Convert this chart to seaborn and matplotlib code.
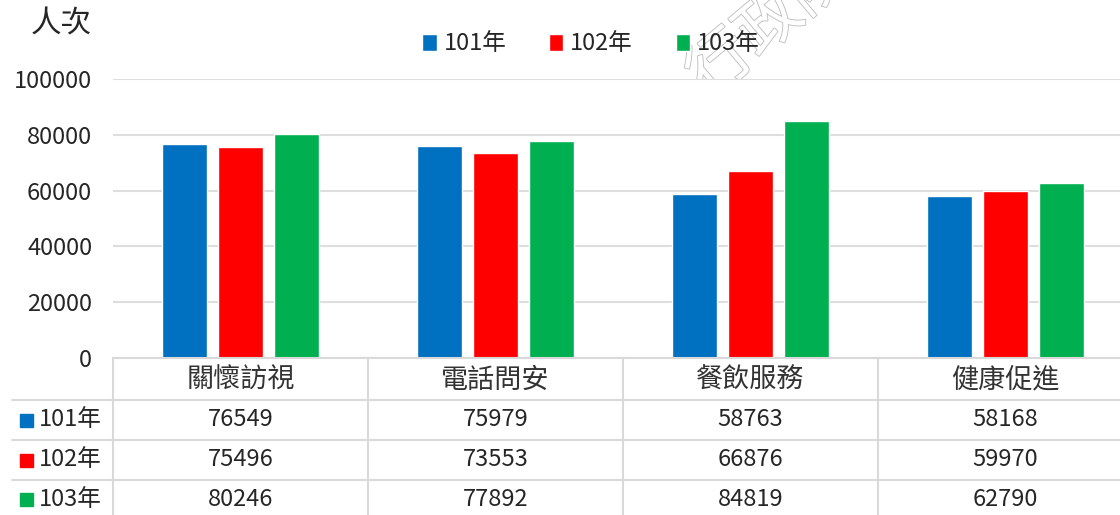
import matplotlib
matplotlib.use("Agg")
import matplotlib.pyplot as plt
import matplotlib.patheffects as pe
from matplotlib.lines import Line2D
from matplotlib.patches import Rectangle
import seaborn as sns
import pandas as pd

categories = ['關懷訪視', '電話問安', '餐飲服務', '健康促進']
years = ['101年', '102年', '103年']
values_101 = [76549, 75979, 58763, 58168]
values_102 = [75496, 73553, 66876, 59970]
values_103 = [80246, 77892, 84819, 62790]
yticks = [0, 20000, 40000, 60000, 80000, 100000]
colors = ['#0070C0', '#FF0000', '#00B050']

series = [values_101, values_102, values_103]
df = pd.DataFrame([
    {'category': c, 'year': y, 'value': v}
    for y, vals in zip(years, series)
    for c, v in zip(categories, vals)
])

sns.set_style('white')
plt.rcParams['font.family'] = ['Noto Sans CJK TC', 'DejaVu Sans']

W, H = 1120, 515
fig = plt.figure(figsize=(W / 100, H / 100), dpi=100)

def fx(px):
    return px / W

def fy(py):
    return 1 - py / H

ax = fig.add_axes([fx(113), fy(358), fx(1120 - 113), (358 - 79) / H])
sns.barplot(data=df, x='category', y='value', hue='year', palette=colors,
            width=0.66, gap=0.2, saturation=1, ax=ax, zorder=3)
ax.set_ylim(0, 100000)
ax.set_xlim(-0.5, 3.449)
ax.set_yticks(yticks)
ax.set_yticklabels([str(t) for t in yticks], fontsize=17)
ax.tick_params(axis='y', length=0, pad=15)
ax.set_xticks([])
ax.set_xlabel('')
ax.set_ylabel('')
ax.grid(axis='y', color='#dedede', linewidth=1.5, zorder=0)
for s in ax.spines.values():
    s.set_visible(False)

ax.legend(loc='center', bbox_to_anchor=(fx(591), fy(44)), bbox_transform=fig.transFigure,
          ncol=3, frameon=False, fontsize=17, handlelength=0.6, handleheight=0.7,
          handletextpad=0.3, columnspacing=1.8)

# watermark
fig.text(fx(770), fy(24), '行政院', fontsize=46, rotation=40, color='white',
         ha='center', va='center', zorder=-1,
         path_effects=[pe.withStroke(linewidth=1.2, foreground='#bbbbbb')])

fig.text(fx(61), fy(24), '人次', fontsize=22, ha='center', va='center')

# data table under the chart
line_c = '#d9d9d9'
row_lines = [400, 440, 480]
fig.add_artist(Line2D([fx(113), 1], [fy(358), fy(358)], color=line_c, lw=1.5))
for yy in row_lines:
    fig.add_artist(Line2D([fx(12), 1], [fy(yy), fy(yy)], color=line_c, lw=1.5))

to_fig = fig.transFigure.inverted()
def cat_x(xd):
    disp = ax.transData.transform((xd, 0))
    return to_fig.transform(disp)[0]

for i in range(len(categories) + 1):
    xb = cat_x(i - 0.5)
    fig.add_artist(Line2D([xb, xb], [fy(358), 0], color=line_c, lw=1.5))

row_centers = [420, 460, 499]
for i, cat in enumerate(categories):
    xc = cat_x(i)
    fig.text(xc, fy(380), cat, fontsize=19.5, ha='center', va='center', color='#333333')
    for r, vals in enumerate(series):
        fig.text(xc, fy(row_centers[r]), str(vals[i]), fontsize=17, ha='center', va='center')

for r, (yr, col) in enumerate(zip(years, colors)):
    yc = row_centers[r]
    fig.add_artist(Rectangle((fx(20), fy(yc + 7)), fx(13), 13 / H, color=col))
    fig.text(fx(39), fy(yc), yr, fontsize=17, ha='left', va='center')

fig.savefig('out.png', dpi=100)
